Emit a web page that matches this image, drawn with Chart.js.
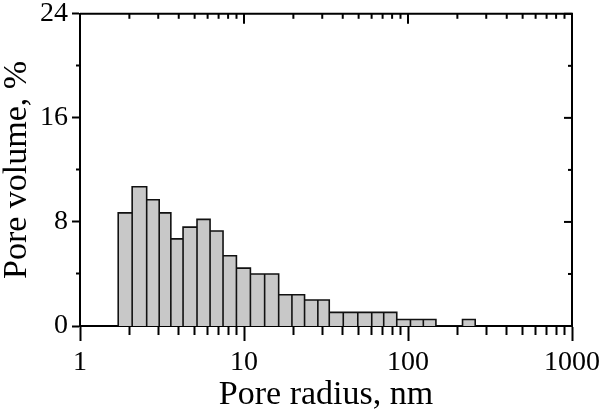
<!DOCTYPE html>
<html>
<head>
<meta charset="utf-8">
<script src="https://cdn.jsdelivr.net/npm/chart.js@4"></script>
<style>
    html, body { margin: 0; padding: 0; background: #fff; }
    #wrap { width: 600px; height: 412px; }
</style>
</head>
<body>
<div id="wrap"><canvas id="poreChart"></canvas></div>
<script>
// bin edges (nm) and pore volume (%) for each bin between consecutive edges
const binEdges = [1.71, 2.08, 2.55, 3.04, 3.58, 4.25, 5.17, 6.21, 7.45, 8.99,
    10.94, 13.36, 16.27, 19.6, 23.4, 28.2, 33.1, 40.3, 49.4, 60.1,
    71.1, 85.4, 103.5, 124, 148, 215, 257];
const poreVolume = [8.7, 10.7, 9.7, 8.7, 6.7, 7.6, 8.2, 7.3, 5.4, 4.45,
    4.0, 4.0, 2.4, 2.4, 2.0, 2.0, 1.05, 1.05, 1.05, 1.05,
    1.05, 0.5, 0.5, 0.5, 0, 0.5];
const xTicks = [1, 2, 3, 4, 5, 6, 7, 8, 9, 10, 20, 30, 40, 50, 60, 70, 80, 90,
    100, 200, 300, 400, 500, 600, 700, 800, 900, 1000];
const yTicks = [0, 4, 8, 12, 16, 20, 24];
const yLabelStep = 8;

const serif = "'Liberation Serif', 'Times New Roman', serif";

function isDecade(v) {
    const l = Math.log10(v);
    return Math.abs(l - Math.round(l)) < 1e-9;
}

// outline of the histogram: up, across, back down for every bin
const outline = [{ x: binEdges[0], y: 0 }];
for (let i = 0; i < poreVolume.length; i++) {
    outline.push({ x: binEdges[i], y: poreVolume[i] });
    outline.push({ x: binEdges[i + 1], y: poreVolume[i] });
    outline.push({ x: binEdges[i + 1], y: 0 });
}

// top and right frame with inward ticks
const mirrorTicks = {
    id: "mirrorTicks",
    afterDatasetsDraw(chart) {
        const { ctx, chartArea: a, scales: { x, y } } = chart;
        ctx.save();
        ctx.strokeStyle = "#000";
        ctx.lineWidth = 2;
        ctx.beginPath();
        ctx.moveTo(a.left, a.top);
        ctx.lineTo(a.right, a.top);
        ctx.lineTo(a.right, a.bottom);
        ctx.stroke();
        x.ticks.forEach(t => {
            const px = x.getPixelForValue(t.value);
            const len = isDecade(t.value) ? 10 : 5;
            ctx.beginPath();
            ctx.moveTo(px, a.top);
            ctx.lineTo(px, a.top + len);
            ctx.stroke();
        });
        y.ticks.forEach(t => {
            const py = y.getPixelForValue(t.value);
            const len = t.value % yLabelStep === 0 ? 8 : 4;
            ctx.beginPath();
            ctx.moveTo(a.right, py);
            ctx.lineTo(a.right - len, py);
            ctx.stroke();
        });
        ctx.restore();
    }
};

const ctx = document.getElementById("poreChart").getContext("2d");
new Chart(ctx, {
    type: "line",
    data: {
        datasets: [{
            label: "Pore volume",
            data: outline,
            borderColor: "#111",
            borderWidth: 1.6,
            borderJoinStyle: "miter",
            backgroundColor: "#c8c8c8",
            fill: "origin",
            tension: 0,
            pointRadius: 0
        }]
    },
    options: {
        responsive: true,
        maintainAspectRatio: false,
        animation: false,
        layout: { padding: { top: 10, right: 28, left: 0, bottom: 0 } },
        plugins: {
            legend: { display: false },
            tooltip: { enabled: false }
        },
        scales: {
            x: {
                type: "logarithmic",
                min: 1,
                max: 1000,
                afterBuildTicks: scale => {
                    scale.ticks = xTicks.map(v => ({ value: v, major: isDecade(v) }));
                },
                afterFit: scale => {
                    scale.height = 86;
                    scale.paddingLeft = 0;
                    scale.paddingRight = 0;
                },
                border: { display: true, color: "#000", width: 2 },
                grid: {
                    drawOnChartArea: false,
                    tickLength: 15,
                    tickColor: "#000",
                    tickWidth: 2,
                    tickBorderDash: c => isDecade(c.tick.value) ? [] : [8, 100]
                },
                ticks: {
                    autoSkip: false,
                    maxRotation: 0,
                    padding: 8,
                    color: "#000",
                    font: { family: serif, size: 28, lineHeight: 1.0 },
                    callback: v => isDecade(v) ? String(Math.round(v)) : ""
                },
                title: {
                    display: true,
                    text: "Pore radius, nm",
                    color: "#000",
                    padding: { top: 0, bottom: 0 },
                    font: { family: serif, size: 34, lineHeight: 1.0 }
                }
            },
            y: {
                min: 0,
                max: 24,
                afterBuildTicks: scale => {
                    scale.ticks = yTicks.map(v => ({ value: v }));
                },
                afterFit: scale => { scale.width = 80; },
                border: { display: true, color: "#000", width: 2 },
                grid: {
                    drawOnChartArea: false,
                    tickLength: 8,
                    tickColor: "#000",
                    tickWidth: 2,
                    tickBorderDash: c => c.tick.value % yLabelStep === 0 ? [] : [0, 4, 4, 100]
                },
                ticks: {
                    padding: 4,
                    color: "#000",
                    font: { family: serif, size: 28, lineHeight: 0.7 },
                    callback: v => v % yLabelStep === 0 ? String(v) : ""
                },
                title: {
                    display: true,
                    text: "Pore volume, %",
                    color: "#000",
                    padding: { top: 0, bottom: 0 },
                    font: { family: serif, size: 34, lineHeight: 1.0 }
                }
            }
        }
    },
    plugins: [mirrorTicks]
});
</script>
</body>
</html>
